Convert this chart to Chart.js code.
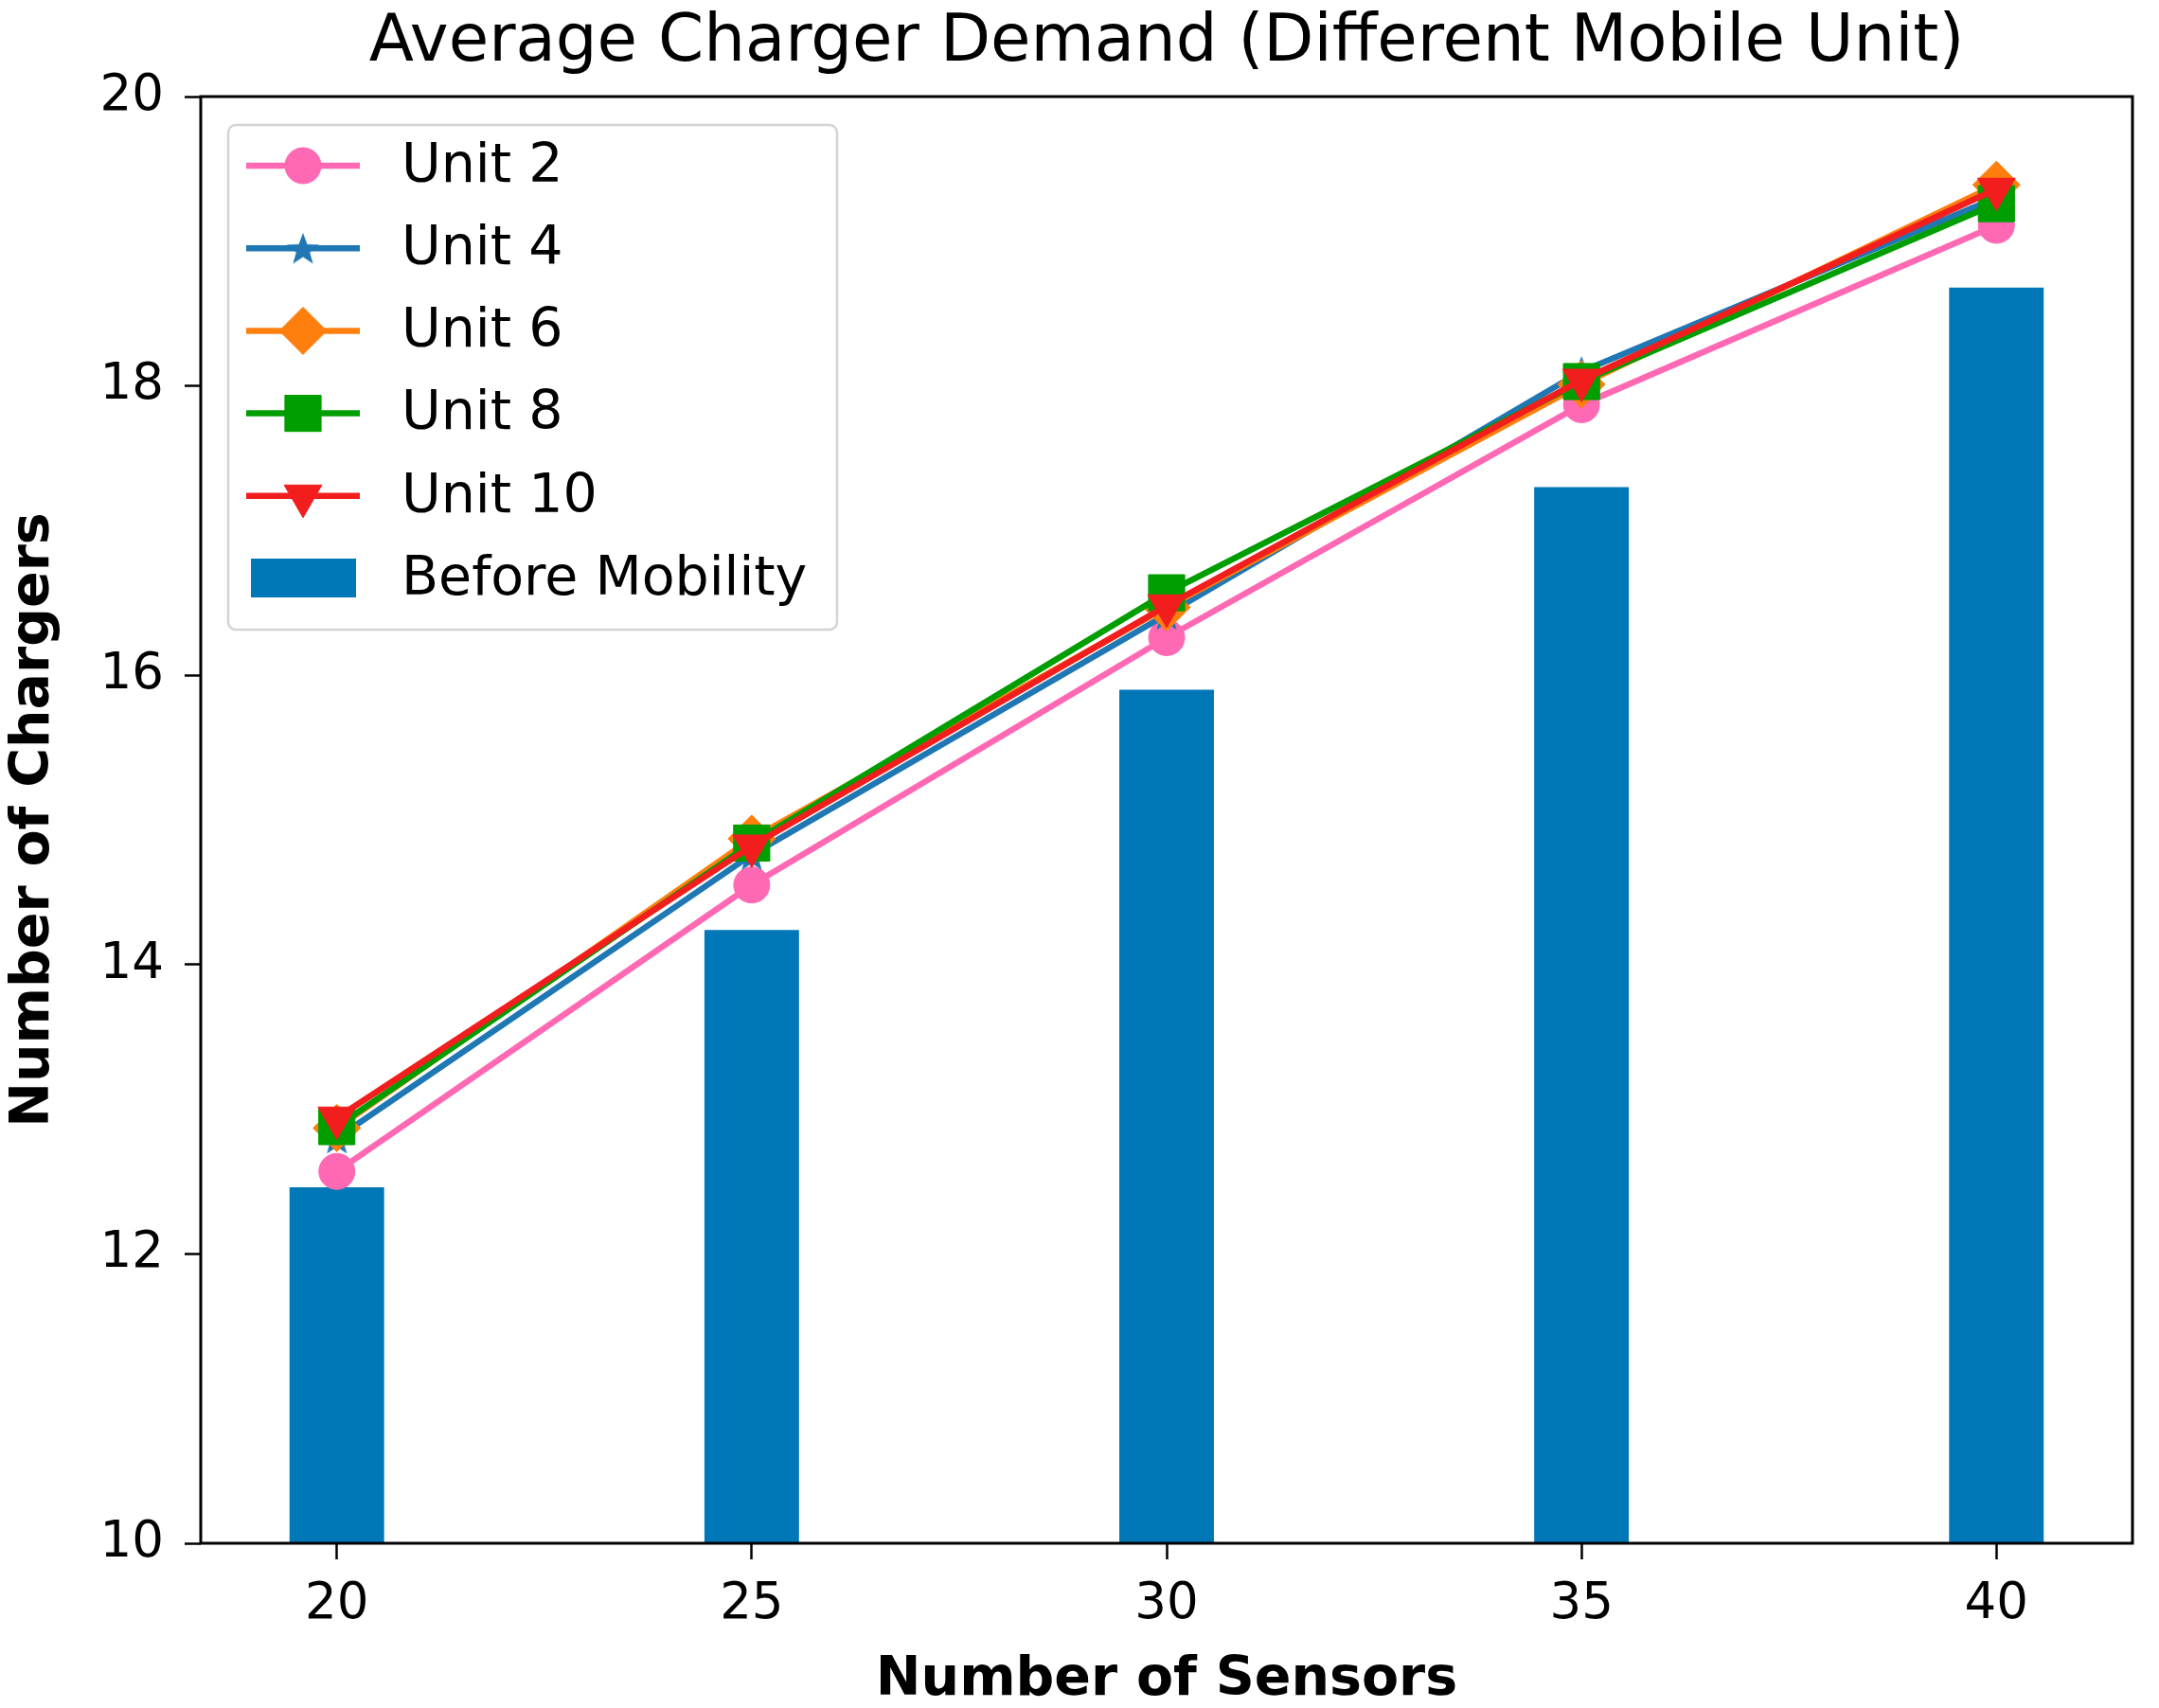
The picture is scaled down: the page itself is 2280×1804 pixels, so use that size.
<!DOCTYPE html>
<html>
<head>
<meta charset="utf-8">
<script src="https://cdn.jsdelivr.net/npm/chart.js@4.4.1/dist/chart.umd.min.js"></script>
<style>
  body { margin: 0; background: #fff; }
  canvas { display: block; }
</style>
</head>
<body>
<canvas id="chart" width="2280" height="1804"></canvas>
<script>
const sensors = [20, 25, 30, 35, 40];
const unit2 = [12.57, 14.55, 16.26, 17.87, 19.11];
const unit4 = [12.80, 14.76, 16.42, 18.10, 19.30];
const unit6 = [12.87, 14.87, 16.47, 18.01, 19.39];
const unit8 = [12.88, 14.84, 16.57, 18.03, 19.26];
const unit10 = [12.94, 14.82, 16.48, 18.04, 19.36];
const beforeMobility = [12.46, 14.24, 15.90, 17.30, 18.68];
const xTicks = [20, 25, 30, 35, 40];
const yTicks = [10, 12, 14, 16, 18, 20];

const chartTitle = "Average Charger Demand (Different Mobile Unit)";
const FONT = "'DejaVu Sans', 'Noto Sans', sans-serif";

// filled five point star, like matplotlib "*"
const makeStar = (color, r) => {
  const c = document.createElement("canvas");
  const s = Math.ceil(r * 2 + 2);
  c.width = s;
  c.height = s;
  const g = c.getContext("2d");
  g.fillStyle = color;
  g.beginPath();
  for (let i = 0; i < 10; i++) {
    const rr = i % 2 === 0 ? r : r * 0.42;
    const a = -Math.PI / 2 + (i * Math.PI) / 5;
    const px = s / 2 + Math.cos(a) * rr;
    const py = s / 2 + Math.sin(a) * rr + r * 0.1;
    if (i === 0) g.moveTo(px, py);
    else g.lineTo(px, py);
  }
  g.closePath();
  g.fill();
  return c;
};

const toXY = vals => vals.map((v, i) => ({ x: sensors[i], y: v }));

const lineSet = (label, vals, color, style, radius, rotation, order) => ({
  type: "line",
  label: label,
  data: toXY(vals),
  borderColor: color,
  backgroundColor: color,
  borderWidth: 6.5,
  pointStyle: style,
  pointRadius: radius,
  pointHoverRadius: radius,
  pointRotation: rotation,
  pointBackgroundColor: color,
  pointBorderColor: color,
  pointBorderWidth: 1,
  tension: 0,
  fill: false,
  clip: false,
  order: order,
});

const blueStar = makeStar("#1f77b4", 18);

const datasets = [
  lineSet("Unit 2", unit2, "#ff69b4", "circle", 19, 0, 4),
  lineSet("Unit 4", unit4, "#1f77b4", blueStar, 18, 0, 3),
  lineSet("Unit 6", unit6, "#ff7f0e", "rectRot", 25, 0, 2),
  lineSet("Unit 8", unit8, "#009e00", "rect", 27, 0, 1),
  lineSet("Unit 10", unit10, "#f21e1e", "triangle", 23, 180, 0),
  {
    type: "bar",
    label: "Before Mobility",
    data: toXY(beforeMobility),
    backgroundColor: "#0077b6",
    borderWidth: 0,
    base: 10,
    categoryPercentage: 1,
    barPercentage: 0.228,
    order: 5,
  },
];

const titlePlugin = {
  id: "topTitle",
  afterDraw(chart) {
    const { ctx, chartArea } = chart;
    ctx.save();
    ctx.fillStyle = "#000";
    ctx.font = "69px " + FONT;
    ctx.textAlign = "center";
    ctx.textBaseline = "middle";
    ctx.fillText(chartTitle, (chartArea.left + chartArea.right) / 2, 46);
    ctx.restore();
  },
};

const framePlugin = {
  id: "frame",
  afterDatasetsDraw(chart) {
    const { ctx, chartArea } = chart;
    ctx.save();
    ctx.strokeStyle = "#000";
    ctx.lineWidth = 3;
    ctx.strokeRect(chartArea.left, chartArea.top, chartArea.right - chartArea.left, chartArea.bottom - chartArea.top);
    ctx.restore();
  },
};

const legendPlugin = {
  id: "boxLegend",
  afterDraw(chart) {
    const ctx = chart.ctx;
    const bx = 241, by = 132, bw = 643, bh = 533, rad = 8;
    ctx.save();
    ctx.beginPath();
    ctx.roundRect(bx, by, bw, bh, rad);
    ctx.fillStyle = "rgba(255,255,255,0.8)";
    ctx.fill();
    ctx.strokeStyle = "#d4d4d4";
    ctx.lineWidth = 2.5;
    ctx.stroke();

    const rowY0 = 175;
    const rowGap = 87.2;
    ctx.font = "57px " + FONT;
    ctx.textBaseline = "middle";
    ctx.textAlign = "left";

    const order = [0, 1, 2, 3, 4, 5];
    order.forEach((di, row) => {
      const ds = chart.data.datasets[di];
      const y = rowY0 + row * rowGap;
      if (ds.type === "bar") {
        ctx.fillStyle = ds.backgroundColor;
        ctx.fillRect(265, y - 21, 111, 41);
      } else {
        ctx.strokeStyle = ds.borderColor;
        ctx.lineWidth = ds.borderWidth;
        ctx.beginPath();
        ctx.moveTo(260, y);
        ctx.lineTo(380, y);
        ctx.stroke();
        ctx.fillStyle = ds.pointBackgroundColor;
        ctx.strokeStyle = ds.pointBorderColor;
        ctx.lineWidth = 1;
        Chart.helpers.drawPoint(ctx, {
          pointStyle: ds.pointStyle,
          radius: ds.pointRadius,
          rotation: ds.pointRotation,
          borderWidth: 1,
        }, 320, y);
      }
      ctx.fillStyle = "#000";
      ctx.fillText(ds.label, 424, y + 2);
    });
    ctx.restore();
  },
};

new Chart(document.getElementById("chart"), {
  data: { datasets: datasets },
  options: {
    responsive: false,
    devicePixelRatio: 1,
    animation: false,
    layout: { padding: { left: 0, top: 102, right: 20, bottom: 0 } },
    plugins: {
      legend: { display: false },
      title: { display: false },
      tooltip: { enabled: false },
    },
    scales: {
      x: {
        type: "linear",
        position: "bottom",
        min: 18.36,
        max: 41.64,
        offset: false,
        afterBuildTicks: axis => {
          axis.ticks = xTicks.map(v => ({ value: v }));
        },
        afterFit: axis => {
          axis.height = 174;
        },
        ticks: {
          color: "#000",
          font: { family: FONT, size: 53 },
          padding: 16,
          callback: v => String(v),
        },
        grid: {
          display: true,
          offset: false,
          drawOnChartArea: false,
          drawTicks: true,
          tickLength: 17,
          tickColor: "#000",
          tickWidth: 2.5,
        },
        border: { display: false },
        title: {
          display: true,
          text: "Number of Sensors",
          color: "#000",
          font: { family: FONT, size: 57, weight: "bold", lineHeight: 1 },
          padding: { top: 0, bottom: 0 },
        },
      },
      y: {
        type: "linear",
        position: "left",
        min: 10,
        max: 20,
        afterBuildTicks: axis => {
          axis.ticks = yTicks.map(v => ({ value: v }));
        },
        afterFit: axis => {
          axis.width = 212;
        },
        ticks: {
          color: "#000",
          font: { family: FONT, size: 53 },
          padding: 22,
          callback: v => String(v),
        },
        grid: {
          display: true,
          offset: false,
          drawOnChartArea: false,
          drawTicks: true,
          tickLength: 17,
          tickColor: "#000",
          tickWidth: 2.5,
        },
        border: { display: false },
        title: {
          display: true,
          text: "Number of Chargers",
          color: "#000",
          font: { family: FONT, size: 57, weight: "bold", lineHeight: 1 },
          padding: { top: 8, bottom: 0 },
        },
      },
    },
  },
  plugins: [titlePlugin, framePlugin, legendPlugin],
});
</script>
</body>
</html>
